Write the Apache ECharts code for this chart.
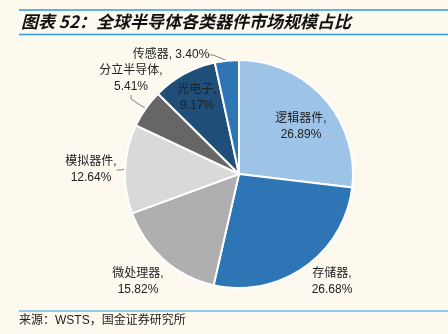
<!DOCTYPE html>
<html>
<head>
<meta charset="utf-8">
<script src="https://cdn.jsdelivr.net/npm/echarts@6/dist/echarts.min.js"></script>
<style>
  html, body { margin: 0; padding: 0; background: #FDF9EF; }
  #chart { width: 448px; height: 334px; }
</style>
</head>
<body>
<div id="chart"></div>
<script>
// Share of global semiconductor market by device type (%)
const categories = ['逻辑器件', '存储器', '微处理器', '模拟器件', '分立半导体', '光电子', '传感器'];
const shares = [26.89, 26.68, 15.82, 12.64, 5.41, 9.17, 3.40];
const colors = ['#9DC3E6', '#2E75B6', '#AFAFAF', '#D9D9D9', '#666666', '#1F4E79', '#2E75B6'];

// Label placement (label centre in px) and whether a leader line is drawn
const labelSpots = {
  '逻辑器件': { x: 301, y: 127, line: false },
  '存储器': { x: 332, y: 282, line: false },
  '微处理器': { x: 138, y: 282, line: false },
  '模拟器件': { x: 91, y: 170, line: true },
  '分立半导体': { x: 131, y: 79, line: true },
  '光电子': { x: 197, y: 98, line: false },
  '传感器': { x: 171, y: 55, line: true }
};
const singleLineLabel = ['传感器'];

const font = '"Liberation Sans", "Noto Sans CJK SC", sans-serif';

function labelText(p) {
  const sep = singleLineLabel.includes(p.name) ? ' ' : '\n';
  return p.name + ',' + sep + p.value.toFixed(2) + '%';
}

const pieData = categories.map((c, i) => ({
  name: c,
  value: shares[i],
  itemStyle: { color: colors[i] },
  labelLine: { show: labelSpots[c].line }
}));

const chart = echarts.init(document.getElementById('chart'), null, { renderer: 'canvas' });
chart.setOption({
  backgroundColor: '#FDF9EF',
  animation: false,
  graphic: [
    { type: 'line', shape: { x1: 19, y1: 10, x2: 448, y2: 10 }, style: { stroke: '#2E9BE0', lineWidth: 1.5 } },
    { type: 'line', shape: { x1: 19, y1: 34.5, x2: 448, y2: 34.5 }, style: { stroke: '#2E9BE0', lineWidth: 1.5 } },
    { type: 'text', left: 21, top: 13, style: { text: '图表 52：全球半导体各类器件市场规模占比', font: 'italic bold 17px "Noto Sans CJK SC", sans-serif', fill: '#111' } },
    { type: 'line', shape: { x1: 19, y1: 311, x2: 448, y2: 311 }, style: { stroke: '#2E9BE0', lineWidth: 1 } },
    { type: 'text', left: 19, top: 315, style: { text: '来源：WSTS，国金证券研究所', font: '12px ' + font, fill: '#222' } }
  ],
  series: [
    {
      type: 'pie',
      center: [239, 174],
      radius: [0, 114],
      startAngle: 90,
      clockwise: true,
      itemStyle: { borderColor: '#FFFFFF', borderWidth: 2 },
      label: {
        show: true,
        position: 'outside',
        formatter: labelText,
        fontFamily: font,
        fontSize: 12,
        lineHeight: 16,
        color: '#222',
        align: 'center'
      },
      labelLine: { show: true, length: 6, length2: 4, lineStyle: { color: '#808080', width: 1 } },
      labelLayout: function (params) {
        const spot = labelSpots[categories[params.dataIndex]];
        return { x: spot.x, y: spot.y, align: 'center', verticalAlign: 'middle' };
      },
      emphasis: { disabled: true },
      data: pieData
    }
  ]
});
</script>
</body>
</html>
